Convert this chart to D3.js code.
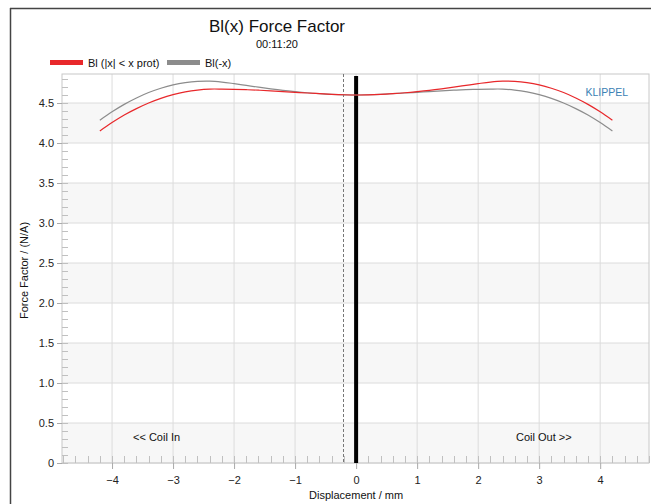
<!DOCTYPE html>
<html><head><meta charset="utf-8">
<script src="https://cdn.jsdelivr.net/npm/d3@7"></script>
<style>body{margin:0;background:#fff;}svg{display:block;font-family:"Liberation Sans",Arial,sans-serif;}</style>
</head><body>
<svg id="c" width="651" height="504"></svg>
<script>
const xs = [-4.2,-4.0,-3.8,-3.6,-3.4,-3.2,-3.0,-2.8,-2.6,-2.4,-2.2,-2.0,-1.8,-1.6,-1.4,-1.2,-1.0,-0.8,-0.6,-0.4,-0.2,0,0.2,0.4,0.6,0.8,1.0,1.2,1.4,1.6,1.8,2.0,2.2,2.4,2.6,2.8,3.0,3.2,3.4,3.6,3.8,4.0,4.2];
const blProt = [4.15,4.255,4.35,4.43,4.50,4.558,4.604,4.639,4.662,4.674,4.674,4.671,4.666,4.66,4.652,4.643,4.634,4.625,4.617,4.609,4.603,4.60,4.602,4.608,4.617,4.628,4.642,4.658,4.677,4.698,4.72,4.742,4.762,4.774,4.771,4.755,4.727,4.685,4.631,4.563,4.483,4.39,4.285];
const blMinus = [4.285,4.39,4.483,4.563,4.631,4.685,4.727,4.755,4.771,4.774,4.762,4.742,4.72,4.698,4.677,4.658,4.642,4.628,4.617,4.608,4.602,4.60,4.603,4.609,4.617,4.625,4.634,4.643,4.652,4.66,4.666,4.671,4.674,4.674,4.662,4.639,4.604,4.558,4.50,4.43,4.35,4.255,4.15];
const xTicks = [-4,-3,-2,-1,0,1,2,3,4];
const yTicks = [0,0.5,1.0,1.5,2.0,2.5,3.0,3.5,4.0,4.5];
const yTickLabels = ["0","0.5","1.0","1.5","2.0","2.5","3.0","3.5","4.0","4.5"];
const xProtLine = -0.21;
const seriesNames = ["Bl (|x| < x prot)","Bl(-x)"];
const seriesColors = ["#e8282b","#8c8c8c"];

const svg = d3.select("#c");
const L=62, R=649, T=74, B=463;
const x = d3.scaleLinear().domain([-4.82,4.8]).range([L,R]);
const y = d3.scaleLinear().domain([0,4.8625]).range([B,T]);

// frame
svg.append("line").attr("x1",10.5).attr("x2",10.5).attr("y1",8).attr("y2",504).attr("stroke","#444").attr("stroke-width",1.5);
svg.append("line").attr("x1",10).attr("x2",651).attr("y1",8.5).attr("y2",8.5).attr("stroke","#444").attr("stroke-width",1.5);

// bands
for (let i=0;i<yTicks.length;i++){
  if (i%2===0){
    svg.append("rect").attr("x",L).attr("width",R-L)
      .attr("y",y(yTicks[i]+0.5)).attr("height",y(yTicks[i])-y(yTicks[i]+0.5)).attr("fill","#f7f7f7");
  }
}
// grid
const g = svg.append("g");
g.selectAll(".gx").data(xTicks).join("line").attr("x1",d=>x(d)).attr("x2",d=>x(d)).attr("y1",T).attr("y2",B).attr("stroke","#dcdcdc");
g.selectAll(".gy").data(yTicks).join("line").attr("x1",L).attr("x2",R).attr("y1",d=>y(d)).attr("y2",d=>y(d)).attr("stroke","#dcdcdc");
svg.append("rect").attr("x",L).attr("y",T).attr("width",R-L).attr("height",B-T).attr("fill","none").attr("stroke","#c8c8c8");

// minor ticks
const yMinor = d3.range(0,4.86,0.1);
svg.selectAll(".ym").data(yMinor).join("line").attr("x1",L).attr("x2",L+6).attr("y1",d=>Math.round(y(d))+0.5).attr("y2",d=>Math.round(y(d))+0.5).attr("stroke","#c0c0c0");
const xMinor = d3.range(-4.8,4.81,0.2);
svg.selectAll(".xm").data(xMinor).join("line").attr("x1",d=>Math.round(x(d))+0.5).attr("x2",d=>Math.round(x(d))+0.5).attr("y1",B).attr("y2",B-7).attr("stroke","#c0c0c0");

// axes
const xAxis = d3.axisBottom(x).tickValues(xTicks).tickSize(6).tickFormat(d3.format("d"));
const ax = svg.append("g").attr("transform",`translate(0,${B})`).call(xAxis);
ax.select(".domain").remove();
ax.selectAll("line").attr("stroke","#aaa");
ax.selectAll("text").attr("font-size",11).attr("fill","#222").attr("dy","1.05em");
const yAxis = d3.axisLeft(y).tickValues(yTicks).tickSize(5).tickFormat((d,i)=>yTickLabels[i]);
const ay = svg.append("g").attr("transform",`translate(${L},0)`).call(yAxis);
ay.select(".domain").remove();
ay.selectAll("line").attr("stroke","#aaa");
ay.selectAll("text").attr("font-size",11).attr("fill","#222");

// dashed xprot line
svg.append("line").attr("x1",Math.round(x(xProtLine))+0.5).attr("x2",Math.round(x(xProtLine))+0.5).attr("y1",T).attr("y2",B)
  .attr("stroke","#777").attr("stroke-dasharray","3,2");
// zero line
svg.append("line").attr("x1",x(0)).attr("x2",x(0)).attr("y1",76).attr("y2",B).attr("stroke","#000").attr("stroke-width",4);

// curves
const line = d3.line().x((d,i)=>x(xs[i])).y(d=>y(d)).curve(d3.curveCatmullRom);
svg.append("path").attr("d",line(blMinus)).attr("fill","none").attr("stroke",seriesColors[1]).attr("stroke-width",1.2);
svg.append("path").attr("d",line(blProt)).attr("fill","none").attr("stroke",seriesColors[0]).attr("stroke-width",1.2);

// texts
svg.append("text").attr("x",277).attr("y",32).attr("text-anchor","middle").attr("font-size",17).attr("fill","#111").text("Bl(x) Force Factor");
svg.append("text").attr("x",277).attr("y",48).attr("text-anchor","middle").attr("font-size",11).attr("fill","#111").text("00:11:20");
svg.append("text").attr("x",628).attr("y",96).attr("text-anchor","end").attr("font-size",10.5).attr("fill","#3b82b4").text("KLIPPEL");
svg.append("text").attr("x",133).attr("y",441).attr("font-size",11).attr("fill","#111").text("<< Coil In");
svg.append("text").attr("x",516).attr("y",441).attr("font-size",11).attr("fill","#111").text("Coil Out >>");
svg.append("text").attr("x",x(0)).attr("y",499).attr("text-anchor","middle").attr("font-size",11).attr("fill","#111").text("Displacement / mm");
svg.append("text").attr("transform",`translate(28,${(T+B)/2+2}) rotate(-90)`).attr("text-anchor","middle").attr("font-size",11).attr("fill","#111").text("Force Factor / (N/A)");

// legend
const lg = [{x:50,tx:88},{x:167,tx:205}];
lg.forEach((p,i)=>{
  svg.append("rect").attr("x",p.x).attr("y",60).attr("width",33).attr("height",5).attr("fill",seriesColors[i]);
  svg.append("text").attr("x",p.tx).attr("y",67).attr("font-size",11).attr("fill","#111").text(seriesNames[i]);
});
</script>
</body></html>
